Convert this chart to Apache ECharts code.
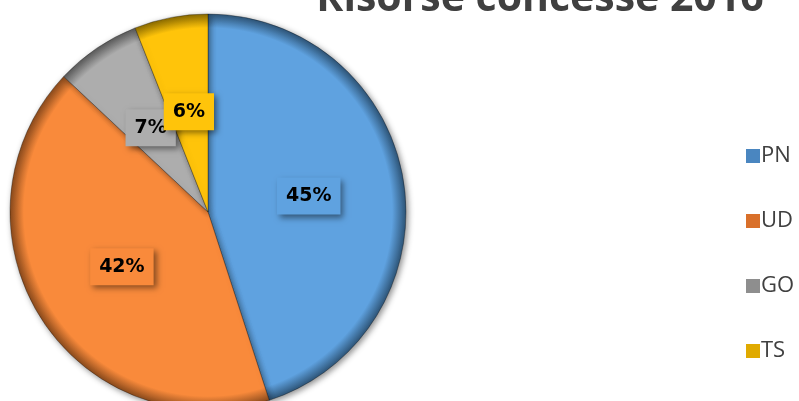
<!DOCTYPE html>
<html>
<head>
<meta charset="utf-8">
<script src="https://cdn.jsdelivr.net/npm/echarts@6/dist/echarts.min.js"></script>
<style>
  html, body { margin: 0; padding: 0; background: #fff; }
  #chart { width: 799px; height: 401px; }
</style>
</head>
<body>
<div id="chart"></div>
<script>
const categories = ["PN", "UD", "GO", "TS"];
const values = [45, 42, 7, 6];
const colors = ["#5FA2E0", "#F98A3B", "#ADADAD", "#FFC40A"];
const edgeColors = ["#2E5578", "#8A4A1C", "#5A5A5A", "#8A6A00"];
const legendColors = ["#4A86C0", "#D9702A", "#8E8E8E", "#E0AA00"];

const chart = echarts.init(document.getElementById("chart"));

const cx = 208, cy = 212, r = 198;

const data = categories.map(function (name, i) {
  return {
    name: name,
    value: values[i],
    itemStyle: {
      color: {
        type: "radial",
        x: cx, y: cy, r: r,
        global: true,
        colorStops: [
          { offset: 0, color: colors[i] },
          { offset: 0.93, color: colors[i] },
          { offset: 1, color: edgeColors[i] }
        ]
      }
    },
    label: { backgroundColor: colors[i] }
  };
});

const legendData = categories.map(function (name, i) {
  return { name: name, itemStyle: { color: legendColors[i] } };
});

chart.setOption({
  animation: false,
  color: colors,
  title: {
    text: "Risorse concesse 2016",
    left: 535,
    textAlign: "center",
    top: -26,
    textStyle: {
      fontFamily: "Open Sans",
      fontWeight: "bold",
      fontSize: 41,
      color: "#404040"
    }
  },
  legend: {
    orient: "vertical",
    left: 741,
    top: 140,
    itemGap: 43,
    itemWidth: 14,
    itemHeight: 14,
    icon: "rect",
    data: legendData,
    itemStyle: { borderWidth: 0 },
    textStyle: {
      fontFamily: "Open Sans",
      fontSize: 22,
      color: "#404040",
      padding: [0, 0, 0, -4]
    }
  },
  series: [
    {
      type: "pie",
      center: [cx, cy],
      radius: r,
      startAngle: 90,
      clockwise: true,
      data: data,
      labelLayout: { hideOverlap: false },
      itemStyle: {
        borderColor: "rgba(0,0,0,0.3)",
        borderWidth: 1,
        shadowBlur: 6,
        shadowColor: "rgba(0,0,0,0.45)",
        shadowOffsetX: 2,
        shadowOffsetY: 2
      },
      label: {
        show: true,
        position: "inside",
        formatter: "{d}%",
        fontFamily: "Verdana, DejaVu Sans",
        fontWeight: "bold",
        fontSize: 19,
        color: "#000",
        padding: [10, 9, 8, 9],
        shadowBlur: 6,
        shadowColor: "rgba(0,0,0,0.45)",
        shadowOffsetX: 3,
        shadowOffsetY: 3
      },
      labelLine: { show: false },
      emphasis: { disabled: true }
    }
  ]
});
</script>
</body>
</html>
